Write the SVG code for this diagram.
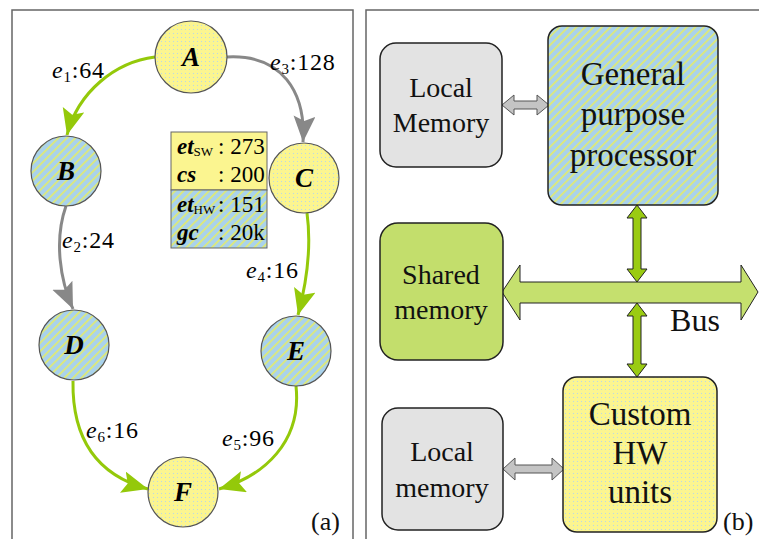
<svg xmlns="http://www.w3.org/2000/svg" width="759" height="539" viewBox="0 0 759 539" font-family="'Liberation Serif', 'Times New Roman', Times, serif">
  <defs>
    <!-- software-side fill: pale yellow with fine blue dots -->
    <pattern id="dots" width="4" height="4" patternUnits="userSpaceOnUse">
      <rect width="4" height="4" fill="#fbf590"/>
      <rect x="1" y="1" width="1" height="1" fill="#b8d8e8"/>
    </pattern>
    <!-- hardware-side fill: light blue with yellow diagonal hatching -->
    <pattern id="hatch" width="6" height="6" patternUnits="userSpaceOnUse" patternTransform="rotate(45)">
      <rect width="6" height="6" fill="#a9d2ec"/>
      <rect x="0" y="0" width="1.6" height="6" fill="#e4ec6a"/>
    </pattern>
    <marker id="ahGreen" markerUnits="userSpaceOnUse" markerWidth="28" markerHeight="24" refX="26" refY="11" orient="auto">
      <path d="M0,0 L26,11 L0,22 L5,11 Z" fill="#94c90a"/>
    </marker>
    <marker id="ahGray" markerUnits="userSpaceOnUse" markerWidth="28" markerHeight="24" refX="26" refY="11" orient="auto">
      <path d="M0,0 L26,11 L0,22 L5,11 Z" fill="#888888"/>
    </marker>
    <style>
      text { font-family: 'Liberation Serif', 'Times New Roman', Times, serif; }
      .panel { fill: #ffffff; stroke: #666666; stroke-width: 1.5; }
      .node { stroke: #555555; stroke-width: 1.2; }
      .sw { fill: url(#dots); }
      .hw { fill: url(#hatch); }
      .nlabel { font-style: italic; font-weight: bold; font-size: 27px; text-anchor: middle; fill: #000; }
      .elabel { font-size: 24px; letter-spacing: 0.8px; fill: #000; }
      .it { font-style: italic; }
      .sub { font-size: 15px; }
      .eg { fill: none; stroke: #94c90a; stroke-width: 3; marker-end: url(#ahGreen); }
      .ey { fill: none; stroke: #888888; stroke-width: 3; marker-end: url(#ahGray); }
      .tbl { font-size: 23px; fill: #000; }
      .bold { font-weight: bold; font-style: italic; }
      .box { stroke: #222222; stroke-width: 1.5; }
      .btxt { text-anchor: middle; fill: #111; }
      .grayarrow { fill: #c4c4c4; stroke: #555555; stroke-width: 1; }
      .greenarrow { fill: #9acb12; stroke: #222222; stroke-width: 1; }
      .cap { font-size: 26px; fill: #111; }
    </style>
  </defs>

  <!-- panel frames -->
  <rect class="panel" x="12" y="10" width="341" height="540"/>
  <rect class="panel" x="366" y="10" width="400" height="540"/>

  <!-- (a) task graph -->
  <g id="edges">
    <path class="eg" d="M155,57 C115,62 78,92 67,135"/>
    <path class="ey" d="M227,57 C282,54 306,92 303,142"/>
    <path class="ey" d="M66,206 C54,240 60,280 73,309"/>
    <path class="eg" d="M307,213 C312,250 306,285 298,315"/>
    <path class="eg" d="M73,381 C72,442 100,476 148,489"/>
    <path class="eg" d="M296,386 C302,442 264,476 219,489"/>
  </g>

  <g id="edge-labels" class="elabel">
    <text x="52" y="78"><tspan class="it">e</tspan><tspan class="sub" dy="4">1</tspan><tspan dy="-4">:64</tspan></text>
    <text x="270" y="70"><tspan class="it">e</tspan><tspan class="sub" dy="4">3</tspan><tspan dy="-4">:128</tspan></text>
    <text x="62" y="248"><tspan class="it">e</tspan><tspan class="sub" dy="4">2</tspan><tspan dy="-4">:24</tspan></text>
    <text x="246" y="278"><tspan class="it">e</tspan><tspan class="sub" dy="4">4</tspan><tspan dy="-4">:16</tspan></text>
    <text x="86" y="438"><tspan class="it">e</tspan><tspan class="sub" dy="4">6</tspan><tspan dy="-4">:16</tspan></text>
    <text x="222" y="446"><tspan class="it">e</tspan><tspan class="sub" dy="4">5</tspan><tspan dy="-4">:96</tspan></text>
  </g>

  <g id="A"><circle class="node sw" cx="191" cy="57" r="36"/><text class="nlabel" x="191" y="66">A</text></g>
  <g id="B"><circle class="node hw" cx="66" cy="171" r="35"/><text class="nlabel" x="66" y="180">B</text></g>
  <g id="C"><circle class="node sw" cx="304" cy="178" r="35"/><text class="nlabel" x="304" y="187">C</text></g>
  <g id="D"><circle class="node hw" cx="74" cy="345" r="35"/><text class="nlabel" x="74" y="354">D</text></g>
  <g id="E"><circle class="node hw" cx="296" cy="351" r="35"/><text class="nlabel" x="296" y="360">E</text></g>
  <g id="F"><circle class="node sw" cx="183" cy="492" r="35"/><text class="nlabel" x="183" y="501">F</text></g>

  <!-- cost table for node C -->
  <g id="cost-table">
    <rect x="171" y="132" width="96" height="58" fill="#fbf590" stroke="#666" stroke-width="1"/>
    <rect x="171" y="190" width="96" height="58" class="hw" stroke="#666" stroke-width="1"/>
    <text class="tbl" x="177" y="154"><tspan class="bold">et</tspan><tspan font-size="13" dy="2">SW</tspan></text>
    <text class="tbl" x="218" y="154">: 273</text>
    <text class="tbl" x="177" y="182"><tspan class="bold">cs</tspan></text>
    <text class="tbl" x="218" y="182">: 200</text>
    <text class="tbl" x="177" y="212"><tspan class="bold">et</tspan><tspan font-size="13" dy="2">HW</tspan></text>
    <text class="tbl" x="218" y="212">: 151</text>
    <text class="tbl" x="177" y="240"><tspan class="bold">gc</tspan></text>
    <text class="tbl" x="218" y="240">: 20k</text>
  </g>

  <text class="cap" x="311" y="530">(a)</text>

  <!-- (b) target architecture -->
  <g id="links">
    <!-- local memory <-> processor -->
    <path class="grayarrow" d="M502,105 L514,95 L514,101 L537,101 L537,95 L549,105 L537,115 L537,109 L514,109 L514,115 Z"/>
    <!-- local memory <-> custom HW -->
    <path class="grayarrow" d="M503,469 L515,458 L515,465 L552,465 L552,458 L564,469 L552,480 L552,473 L515,473 L515,480 Z"/>
    <!-- bus -->
    <path class="greenarrow" style="fill:#c5e06e" d="M502,292 L520,265 L520,282 L741,282 L741,265 L758,292 L741,320 L741,303 L520,303 L520,320 Z"/>
    <!-- processor <-> bus -->
    <path class="greenarrow" d="M637,205 L647,218 L641,218 L641,269 L647,269 L637,282 L627,269 L633,269 L633,218 L627,218 Z"/>
    <!-- bus <-> custom HW -->
    <path class="greenarrow" d="M637,303 L647,316 L641,316 L641,364 L647,364 L637,377 L627,364 L633,364 L633,316 L627,316 Z"/>
  </g>

  <g id="local-memory-1">
    <rect class="box" x="380" y="43" width="122" height="124" rx="16" fill="#e3e3e3"/>
    <text class="btxt" x="441" y="97" font-size="28">Local</text>
    <text class="btxt" x="441" y="132" font-size="28">Memory</text>
  </g>

  <g id="processor">
    <rect class="box hw" x="548" y="26" width="170" height="179" rx="14"/>
    <text class="btxt" x="633" y="85" font-size="33">General</text>
    <text class="btxt" x="633" y="125" font-size="33">purpose</text>
    <text class="btxt" x="633" y="166" font-size="33">processor</text>
  </g>

  <g id="shared-memory">
    <rect class="box" x="380" y="223" width="123" height="137" rx="18" fill="#c3de6c"/>
    <text class="btxt" x="441" y="284" font-size="28">Shared</text>
    <text class="btxt" x="441" y="319" font-size="28">memory</text>
  </g>

  <text class="btxt" x="695" y="331" font-size="32">Bus</text>

  <g id="local-memory-2">
    <rect class="box" x="382" y="408" width="121" height="122" rx="16" fill="#e3e3e3"/>
    <text class="btxt" x="442" y="461" font-size="28">Local</text>
    <text class="btxt" x="442" y="497" font-size="28">memory</text>
  </g>

  <g id="custom-hw">
    <rect class="box" x="563" y="377" width="154" height="155" rx="14" fill="url(#dots)"/>
    <text class="btxt" x="640" y="425" font-size="33">Custom</text>
    <text class="btxt" x="640" y="464" font-size="33">HW</text>
    <text class="btxt" x="640" y="503" font-size="33">units</text>
  </g>

  <text class="cap" x="723" y="530">(b)</text>
</svg>
